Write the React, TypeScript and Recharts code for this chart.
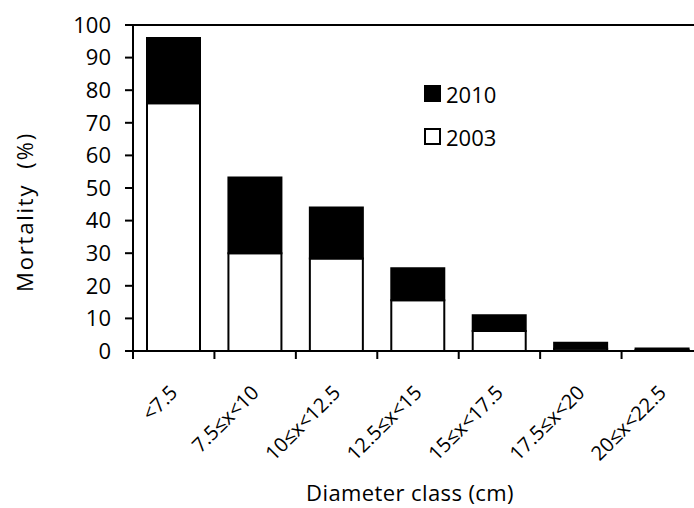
import React from 'react';
import { BarChart, Bar, XAxis, YAxis, Legend, ReferenceLine } from 'recharts';

const classes = ['<7.5', '7.5≤x<10', '10≤x<12.5', '12.5≤x<15', '15≤x<17.5', '17.5≤x<20', '20≤x<22.5'];
const mort2003 = [76, 30, 28.4, 15.6, 6.1, 0.7, 0.3];
const mort2010 = [20, 23.2, 15.6, 9.8, 4.9, 1.8, 0.5];
const yTicks = [0, 10, 20, 30, 40, 50, 60, 70, 80, 90, 100];

const data = classes.map((c, i) => ({ cls: c, y2003: mort2003[i], y2010: mort2010[i] }));

const FONT = '"Open Sans", Lato, sans-serif';
const CHART_W = 720;
const PLOT_W = 570;
const BAND = PLOT_W / classes.length;

function XTick(props: any) {
  const { x, y, payload, index } = props;
  const tx = x + 5;
  const ty = y + 31;
  return (
    <g>
      <line x1={x - BAND / 2} x2={x - BAND / 2} y1={y - 12} y2={y - 4} stroke="#000" strokeWidth={2} />
      {index === classes.length - 1 && (
        <line x1={x + BAND / 2} x2={x + BAND / 2} y1={y - 12} y2={y - 4} stroke="#000" strokeWidth={2} />
      )}
      <text x={tx} y={ty} transform={`rotate(-45, ${tx}, ${ty})`} textAnchor="end" fontSize={20} fill="#000" fontFamily={FONT}>
        {payload.value}
      </text>
    </g>
  );
}

function YTitle(props: any) {
  const { viewBox } = props;
  const cx = 24;
  const cy = viewBox.y + viewBox.height / 2 + 24;
  return (
    <text
      x={cx}
      y={cy}
      transform={`rotate(-90, ${cx}, ${cy})`}
      textAnchor="middle"
      dominantBaseline="central"
      fontSize={22}
      letterSpacing={1.8}
      fill="#000"
      fontFamily={FONT}
      style={{ whiteSpace: 'pre' }}
    >
      {'Mortality  (%)'}
    </text>
  );
}

function LegendBox(props: any) {
  const items = [...(props.payload || [])].reverse();
  return (
    <div style={{ fontFamily: FONT, fontSize: 22, color: '#000' }}>
      {items.map((it: any) => (
        <div key={it.value} style={{ display: 'flex', alignItems: 'center', height: 43 }}>
          <span
            style={{
              display: 'inline-block',
              width: 13,
              height: 13,
              border: '2px solid #000',
              background: it.value === '2010' ? '#000' : '#fff',
              marginRight: 5,
            }}
          />
          <span>{it.value}</span>
        </div>
      ))}
    </div>
  );
}

export default function App() {
  return (
    <div style={{ position: 'absolute', left: 0, top: 0, width: 694, height: 508, overflow: 'hidden', background: '#fff' }}>
      <BarChart
        width={CHART_W}
        height={508}
        data={data}
        margin={{ top: 25, right: CHART_W - 133 - PLOT_W, left: 0, bottom: 0 }}
        barSize={53}
      >
        <ReferenceLine y={100} stroke="#000" strokeWidth={2} />
        <XAxis
          dataKey="cls"
          interval={0}
          tickLine={false}
          tickSize={8}
          tickMargin={4}
          axisLine={{ stroke: '#000', strokeWidth: 2 }}
          tick={<XTick />}
          height={157}
          label={{ value: 'Diameter class (cm)', position: 'insideBottom', offset: 7, fontSize: 22, letterSpacing: 0.4, fill: '#000', fontFamily: FONT, dx: -8 }}
        />
        <YAxis
          domain={[0, 100]}
          ticks={yTicks}
          width={133}
          tickSize={8}
          tickMargin={14}
          axisLine={{ stroke: '#000', strokeWidth: 2 }}
          tickLine={{ stroke: '#000', strokeWidth: 2 }}
          tick={{ fill: '#000', fontSize: 22, fontFamily: FONT }}
          label={{ content: <YTitle /> } as any}
        />
        <Legend
          content={<LegendBox />}
          layout="vertical"
          align="center"
          verticalAlign="middle"
          wrapperStyle={{ position: 'absolute', left: 424, top: 72, width: 100 }}
        />
        <Bar dataKey="y2003" name="2003" stackId="a" fill="#fff" stroke="#000" strokeWidth={2} isAnimationActive={false} />
        <Bar dataKey="y2010" name="2010" stackId="a" fill="#000" stroke="#000" strokeWidth={2} isAnimationActive={false} />
      </BarChart>
    </div>
  );
}
